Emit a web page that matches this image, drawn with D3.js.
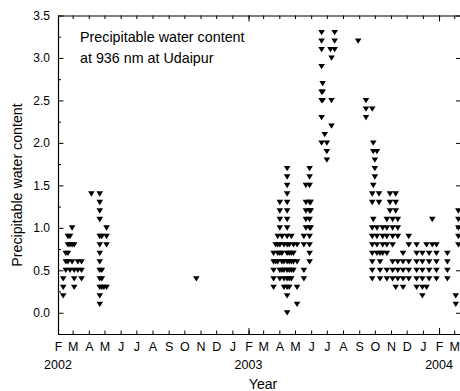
<!DOCTYPE html>
<html>
<head>
<meta charset="utf-8">
<script src="https://cdn.jsdelivr.net/npm/d3@7"></script>
<style>
  html, body { margin: 0; padding: 0; background: #fff; }
  svg { display: block; font-family: "Liberation Sans", Arial, sans-serif; }
</style>
</head>
<body>
<svg id="chart" width="460" height="391"></svg>
<script>
// Observation days and the precipitable water content values retrieved on each day
const obsDates = [
  "2002-02-11", "2002-02-16", "2002-02-20", "2002-02-24", "2002-02-28",
  "2002-03-04", "2002-03-11", "2002-03-18",
  "2002-04-06", "2002-04-22", "2002-04-26", "2002-04-30", "2002-05-05",
  "2002-10-24",
  "2003-03-21", "2003-03-25", "2003-03-29", "2003-04-02", "2003-04-06",
  "2003-04-10", "2003-04-16", "2003-04-20", "2003-04-24", "2003-04-28",
  "2003-05-05", "2003-05-18", "2003-05-22", "2003-05-29", "2003-05-31",
  "2003-06-21", "2003-06-23", "2003-06-27", "2003-07-01", "2003-07-08",
  "2003-07-10", "2003-07-16", "2003-08-30",
  "2003-09-14", "2003-09-26", "2003-09-28", "2003-10-01", "2003-10-05",
  "2003-10-09", "2003-10-11", "2003-10-16", "2003-10-24", "2003-10-30",
  "2003-11-04", "2003-11-10", "2003-11-14", "2003-11-24", "2003-12-05",
  "2003-12-20", "2003-12-31", "2004-01-08", "2004-01-13", "2004-01-19",
  "2004-01-27", "2004-02-17", "2004-03-04", "2004-03-09"
];

const obsValues = [
  [0.2, 0.3, 0.4], [0.5, 0.6, 0.7], [0.6, 0.7, 0.8, 0.9], [0.5, 0.8, 0.9], [0.6, 0.8, 1.0],
  [0.3, 0.4, 0.5, 0.8], [0.5, 0.6], [0.4, 0.5, 0.6],
  [1.4], [1.4, 1.3, 1.2, 1.1, 0.9, 0.8, 0.7, 0.6, 0.5, 0.4, 0.3, 0.2, 0.1], [0.9, 0.5, 0.4, 0.3], [0.3], [1.0, 0.9, 0.8, 0.3],
  [0.4],
  [0.3, 0.4, 0.5, 0.6, 0.7], [0.6, 0.8], [0.6, 0.7, 0.8, 0.9], [0.4, 0.5, 0.7, 0.8, 1.0, 1.1, 1.2, 1.3], [0.5, 0.6, 0.7, 0.9],
  [0.3, 0.4, 0.5, 0.6, 0.8], [0.0, 0.2, 0.3, 0.4, 0.5, 0.6, 0.7, 0.8, 0.9, 1.0, 1.1, 1.2, 1.3, 1.4, 1.5, 1.6, 1.7], [0.3, 0.4, 0.5, 0.6, 0.7, 0.8], [0.4, 0.5, 0.6, 0.7, 0.9], [0.5, 0.6, 0.7, 0.8],
  [0.1, 0.3, 0.6, 0.8], [0.4, 0.5, 0.8, 0.9], [1.0, 1.1, 1.2, 1.3, 1.5], [0.6, 0.7, 0.8, 0.9, 1.0, 1.1, 1.2, 1.3, 1.5, 1.6, 1.7], [1.0, 1.2, 1.3],
  [3.3, 3.2, 3.1, 2.9, 2.6, 2.5, 2.3, 2.0], [2.7, 2.6, 2.5], [2.1], [2.0, 1.9, 1.8], [3.1],
  [3.0, 2.5, 2.2], [3.3, 3.2, 3.1], [3.2],
  [2.5, 2.4, 2.3], [2.4, 1.4, 1.3, 1.0, 0.9, 0.8, 0.7, 0.6, 0.5, 0.4], [2.0, 1.9, 1.5, 1.1], [1.8, 1.7, 1.6], [1.9, 1.0, 0.9, 0.8, 0.7],
  [1.4, 1.3], [0.7, 0.6, 0.5, 0.4], [1.0, 0.9, 0.8, 0.7], [1.1, 1.0, 0.9, 0.8, 0.7, 0.5, 0.4], [1.4, 1.3, 1.2],
  [1.1, 1.0, 0.9, 0.8, 0.6, 0.5, 0.4], [1.4, 1.3, 1.2, 0.3], [1.1, 1.0, 0.9, 0.6, 0.5, 0.4], [0.7, 0.6, 0.5, 0.4, 0.3], [0.9, 0.8, 0.6, 0.5, 0.4],
  [0.8, 0.7, 0.6, 0.5, 0.4, 0.3], [0.7, 0.6, 0.5, 0.4, 0.3, 0.2], [0.8, 0.3], [0.7, 0.6, 0.5, 0.4], [1.1, 0.8],
  [0.8, 0.7, 0.6, 0.5, 0.4], [0.7, 0.6, 0.5, 0.4], [0.2, 0.1], [1.2, 1.1, 1.0, 0.9, 0.8]
];

const monthLetters = ["J", "F", "M", "A", "M", "J", "J", "A", "S", "O", "N", "D"];
const yearLabels = ["2002", "2003", "2004"];
const yTickValues = [0.0, 0.5, 1.0, 1.5, 2.0, 2.5, 3.0, 3.5];
const titleLines = ["Precipitable water content", "at 936 nm at Udaipur"];

const parse = d3.timeParse("%Y-%m-%d");
const points = [];
obsDates.forEach((d, i) => {
  obsValues[i].forEach(v => points.push({ date: parse(d), value: v }));
});

const svg = d3.select("#chart");
const margin = { left: 58, top: 15.5, bottom: 334 };
const xStart = parse("2002-02-01"), xEnd = parse("2004-03-15");
const pxPerDay = 0.522;
const xRight = margin.left + d3.timeDay.count(xStart, xEnd) * pxPerDay;

const x = d3.scaleTime().domain([xStart, xEnd]).range([margin.left, xRight]);
const y = d3.scaleLinear().domain([-0.25, 3.5]).range([margin.bottom, margin.top]);

const months = d3.timeMonth.range(xStart, d3.timeDay.offset(xEnd, 1));
const februaries = months.filter(m => m.getMonth() === 1);

function styleAxis(g) {
  g.selectAll("path.domain").attr("stroke", "#000").attr("stroke-width", 1.2);
  g.selectAll(".tick line").attr("stroke", "#000").attr("stroke-width", 1);
  g.selectAll(".tick text").attr("fill", "#000").attr("font-size", 12);
}

// Bottom axis: monthly ticks pointing in, labelled by month initial
const gx = svg.append("g").attr("transform", `translate(0,${margin.bottom})`)
  .call(d3.axisBottom(x).tickValues(months).tickSizeInner(-3.5).tickSizeOuter(0)
    .tickPadding(8.5).tickFormat(d => monthLetters[d.getMonth()]))
  .call(styleAxis);
gx.selectAll(".tick text").attr("font-size", 12.5);

// Longer ticks at the start of each year block
svg.append("g").attr("transform", `translate(0,${margin.bottom})`)
  .call(d3.axisBottom(x).tickValues(februaries).tickSizeInner(-6).tickSizeOuter(0).tickFormat(""))
  .call(styleAxis)
  .select("path.domain").remove();

svg.append("g").selectAll("text").data(februaries).join("text")
  .attr("x", d => x(d)).attr("y", 369)
  .attr("text-anchor", "middle").attr("font-size", 12.5).attr("fill", "#000")
  .text((d, i) => yearLabels[i]);

// Top axis mirrors the month ticks without labels
svg.append("g").attr("transform", `translate(0,${margin.top})`)
  .call(d3.axisTop(x).tickValues(months).tickSizeInner(-3.5).tickSizeOuter(0).tickFormat(""))
  .call(styleAxis);
svg.append("g").attr("transform", `translate(0,${margin.top})`)
  .call(d3.axisTop(x).tickValues(februaries).tickSizeInner(-6).tickSizeOuter(0).tickFormat(""))
  .call(styleAxis)
  .select("path.domain").remove();

// Left axis with major and minor inward ticks
svg.append("g").attr("transform", `translate(${margin.left},0)`)
  .call(d3.axisLeft(y).tickValues(yTickValues).tickSizeInner(-5.5).tickSizeOuter(0)
    .tickPadding(8).tickFormat(d3.format(".1f")))
  .call(styleAxis);
svg.append("g").attr("transform", `translate(${margin.left},0)`)
  .call(d3.axisLeft(y).tickValues(d3.range(-0.25, 3.5, 0.5)).tickSizeInner(-3).tickSizeOuter(0).tickFormat(""))
  .call(styleAxis)
  .select("path.domain").remove();

// Right axis
svg.append("g").attr("transform", `translate(${xRight},0)`)
  .call(d3.axisRight(y).tickValues(yTickValues).tickSizeInner(-5.5).tickSizeOuter(0).tickFormat(""))
  .call(styleAxis);

// Axis titles
svg.append("text")
  .attr("transform", `translate(22,185) rotate(-90)`)
  .attr("text-anchor", "middle").attr("font-size", 14.2).attr("fill", "#000")
  .text("Precipitable water content");
svg.append("text")
  .attr("x", 263).attr("y", 389)
  .attr("text-anchor", "middle").attr("font-size", 14).attr("fill", "#000")
  .text("Year");

// In-plot annotation
svg.append("g").selectAll("text").data(titleLines).join("text")
  .attr("x", 80).attr("y", (d, i) => 42 + i * 20.5)
  .attr("font-size", 14.3).attr("fill", "#000")
  .text(d => d);

// Down-pointing triangle markers
const tri = "M-3.3,-2.5L3.3,-2.5L0,2.8Z";
svg.append("g").selectAll("path").data(points).join("path")
  .attr("d", tri)
  .attr("transform", d => `translate(${x(d.date)},${y(d.value)})`)
  .attr("fill", "#000");
</script>
</body>
</html>
